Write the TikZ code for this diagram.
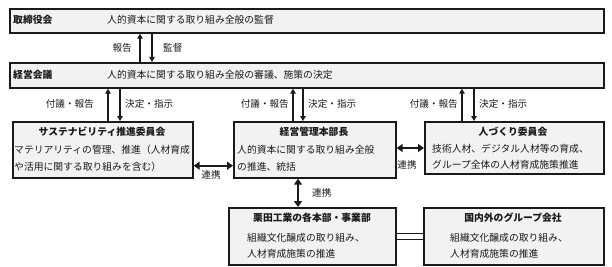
\documentclass[tikz,border=0pt]{standalone}
\usepackage{fontspec}
\setmainfont{Noto Sans CJK JP}
\usetikzlibrary{arrows.meta,calc}
\definecolor{boxfill}{HTML}{F2F2F2}
\definecolor{ink}{HTML}{1A1A1A}
\begin{document}
\begin{tikzpicture}[x=1pt,y=-1pt,
  box/.style={draw=ink, line width=1.7pt, fill=boxfill, anchor=north west, inner sep=0pt},
  txt/.style={font=\fontsize{9.8pt}{11pt}\selectfont, text=ink, inner sep=0pt},
  ttl/.style={font=\fontsize{9.8pt}{11pt}\selectfont\bfseries, text=ink, inner sep=0pt},
  lbl/.style={font=\fontsize{9.6pt}{11pt}\selectfont, text=ink, inner sep=0pt},
  arr/.style={draw=ink, line width=1.1pt, -{Triangle[width=5.5pt,length=5pt]}},
  darr/.style={draw=ink, line width=2pt, {Triangle[width=8pt,length=6pt]}-{Triangle[width=8pt,length=6pt]}}
]
\useasboundingbox (0,0) rectangle (612,267);

% boxes
\node[box, minimum width=594pt, minimum height=24pt] (tori) at (9,8) {};
\node[box, minimum width=594pt, minimum height=25pt] (keiei) at (9,62) {};
\node[box, minimum width=180pt, minimum height=56pt] (sus) at (12,121) {};
\node[box, minimum width=162pt, minimum height=56pt] (kanri) at (233,121) {};
\node[box, minimum width=179pt, minimum height=52pt] (hito) at (424,121) {};
\node[box, minimum width=167pt, minimum height=57pt] (kurita) at (228,207) {};
\node[box, minimum width=180pt, minimum height=57pt] (group) at (423,207) {};

% top texts
\node[ttl, anchor=west] (toriL) at (13,20) {取締役会};
\node[txt, anchor=west] (toriT) at (107,20) {人的資本に関する取り組み全般の監督};
\node[ttl, anchor=west] (keieiL) at (13,75) {経営会議};
\node[txt, anchor=west] (keieiT) at (107,75) {人的資本に関する取り組み全般の審議、施策の決定};

% box texts
\node[ttl] (susT) at (102,132) {サステナビリティ推進委員会};
\node[txt, anchor=west] (susA) at (14,150) {マテリアリティの管理、推進（人材育成};
\node[txt, anchor=west] (susB) at (14,167) {や活用に関する取り組みを含む）};

\node[ttl] (kanriT) at (314,132) {経営管理本部長};
\node[txt, anchor=west] (kanriA) at (237,150) {人的資本に関する取り組み全般};
\node[txt, anchor=west] (kanriB) at (237,167) {の推進、統括};

\node[ttl] (hitoT) at (513,132) {人づくり委員会};
\node[txt, anchor=west] (hitoA) at (432,149) {技術人材、デジタル人材等の育成、};
\node[txt, anchor=west] (hitoB) at (432,165) {グループ全体の人材育成施策推進};

\node[ttl] (kuritaT) at (312,218) {栗田工業の各本部・事業部};
\node[txt, anchor=west] (kuritaA) at (247,238) {組織文化醸成の取り組み、};
\node[txt, anchor=west] (kuritaB) at (247,254) {人材育成施策の推進};

\node[ttl] (groupT) at (513,218) {国内外のグループ会社};
\node[txt, anchor=west] (groupA) at (450,238) {組織文化醸成の取り組み、};
\node[txt, anchor=west] (groupB) at (450,254) {人材育成施策の推進};

% arrow labels
\node[lbl, anchor=east] (l1) at (132,48) {報告};
\node[lbl, anchor=west] (l2) at (163,48) {監督};
\node[lbl, anchor=east] (l3) at (94,104) {付議・報告};
\node[lbl, anchor=west] (l4) at (125,104) {決定・指示};
\node[lbl, anchor=east] (l5) at (289,104) {付議・報告};
\node[lbl, anchor=west] (l6) at (308,104) {決定・指示};
\node[lbl, anchor=east] (l7) at (458,104) {付議・報告};
\node[lbl, anchor=west] (l8) at (479,104) {決定・指示};
\node[lbl] (r1) at (211,175) {連携};
\node[lbl] (r2) at (407,165) {連携};
\node[lbl, anchor=west] (r3) at (312,193) {連携};

% vertical arrows
\draw[arr] ($(keiei.north west)+(131,0)$) coordinate (a1) -- (a1 |- tori.south);
\draw[arr] ($(tori.south west)+(143,0)$) coordinate (a2) -- (a2 |- keiei.north);
\draw[arr] ($(sus.north west)+(96,0)$) coordinate (b1) -- (b1 |- keiei.south);
\draw[arr] ($(keiei.south west)+(111,0)$) coordinate (b2) -- (b2 |- sus.north);
\draw[arr] ($(kanri.north west)+(60,0)$) coordinate (c1) -- (c1 |- keiei.south);
\draw[arr] ($(keiei.south west)+(294,0)$) coordinate (c2) -- (c2 |- kanri.north);
\draw[arr] ($(hito.north west)+(38,0)$) coordinate (d1) -- (d1 |- keiei.south);
\draw[arr] ($(keiei.south west)+(465,0)$) coordinate (d2) -- (d2 |- hito.north);

% cooperation arrows
\draw[darr] ($(sus.south east)+(0,-13)$) coordinate (e1) -- (e1 -| kanri.west);
\draw[darr] ($(kanri.north east)+(0,27)$) coordinate (e2) -- (e2 -| hito.west);
\draw[darr] ($(kanri.south west)+(65,0)$) coordinate (e3) -- (e3 |- kurita.north);

% double line
\draw[draw=ink, line width=1.3pt, double=white, double distance=4.6pt] (kurita.east) -- (group.west);
\end{tikzpicture}
\end{document}
